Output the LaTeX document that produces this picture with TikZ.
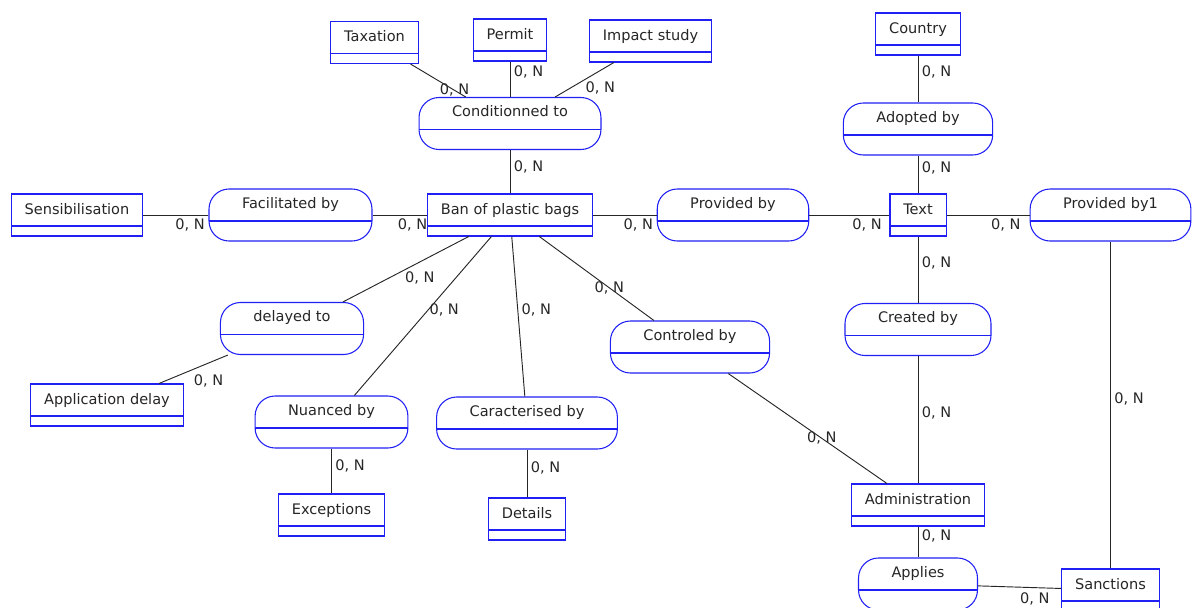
\documentclass[tikz,border=0pt]{standalone}
\usepackage{fontspec}
\setmainfont{DejaVu Sans}
\usetikzlibrary{positioning}
\definecolor{BoxBlue}{RGB}{32,32,245}
\definecolor{InkGrey}{RGB}{38,38,38}
\tikzset{
  entitybox/.style={draw=BoxBlue, line width=0.8pt, fill=white, text=InkGrey,
    font=\fontsize{10.9pt}{13pt}\selectfont, inner xsep=10pt, inner ysep=0pt,
    text height=15pt, text depth=16.5pt,
    path picture={\draw[BoxBlue, line width=0.8pt]
      ([yshift=7.5pt]path picture bounding box.south west) --
      ([yshift=7.5pt]path picture bounding box.south east);}},
  assocbox/.style={draw=BoxBlue, line width=0.8pt, rounded corners=15pt, fill=white,
    text=InkGrey, font=\fontsize{10.9pt}{13pt}\selectfont, inner xsep=24.75pt,
    inner ysep=0pt, text height=14.25pt, text depth=24.75pt,
    path picture={\draw[BoxBlue, line width=0.8pt]
      ([yshift=15pt]path picture bounding box.south west) --
      ([yshift=15pt]path picture bounding box.south east);}},
  link/.style={draw=black!85, line width=0.7pt},
  cardlbl/.style={font=\fontsize{10.9pt}{13pt}\selectfont, text=InkGrey, inner sep=2.5pt},
}

\begin{document}
\begin{tikzpicture}[x=0.75pt, y=-0.75pt]
  \useasboundingbox (0,0) rectangle (1192,607);
  \clip (0,0) rectangle (1192,607);

  % entities
  \node[entitybox] (tax) at (374.5,42.5) {Taxation};
  \node[entitybox] (permit) at (510,40) {Permit};
  \node[entitybox] (impact) at (650.5,41) {Impact study};
  \node[entitybox] (sensib) at (77,215) {Sensibilisation};
  \node[entitybox] (ban) at (510,215) {Ban of plastic bags};
  \node[entitybox] (txt) at (918,215) {Text};
  \node[entitybox] (country) at (918,34) {Country};
  \node[entitybox] (appdelay) at (107,405) {Application delay};
  \node[entitybox] (except) at (331.5,515) {Exceptions};
  \node[entitybox] (details) at (527,519) {Details};
  \node[entitybox] (admin) at (918,505) {Administration};
  \node[entitybox] (sanct) at (1110.5,590) {Sanctions};

  % associations
  \node[assocbox] (cond) at (510,123.5) {Conditionned to};
  \node[assocbox] (facil) at (290.5,215) {Facilitated by};
  \node[assocbox] (prov) at (733,215) {Provided by};
  \node[assocbox] (prov1) at (1110.5,215) {Provided by1};
  \node[assocbox] (adopt) at (918,129) {Adopted by};
  \node[assocbox] (created) at (918,329.5) {Created by};
  \node[assocbox] (delay) at (292,328.5) {delayed to};
  \node[assocbox] (nuanced) at (331.5,422) {Nuanced by};
  \node[assocbox] (caract) at (527,423) {Caracterised by};
  \node[assocbox] (controled) at (690,347) {Controled by};
  \node[assocbox] (applies) at (918,584) {Applies};

  % links
  \draw[link] (tax) -- (cond) node[cardlbl, pos=.8] {0, N};
  \draw[link] (permit) -- (cond) node[cardlbl, pos=.3, right] {0, N};
  \draw[link] (impact) -- (cond) node[cardlbl, pos=.75, right=9pt] {0, N};
  \draw[link] (cond) -- (ban) node[cardlbl, pos=.39, right] {0, N};
  \draw[link] (sensib) -- (facil) node[cardlbl, pos=1, below left] {0, N};
  \draw[link] (facil) -- (ban) node[cardlbl, pos=1, below left=0pt and -3pt] {0, N};
  \draw[link] (ban) -- (prov) node[cardlbl, pos=1, below left] {0, N};
  \draw[link] (prov) -- (txt) node[cardlbl, pos=1, below left=0pt and 3pt] {0, N};
  \draw[link] (txt) -- (prov1) node[cardlbl, pos=1, below left=0pt and 4pt] {0, N};
  \draw[link] (country) -- (adopt) node[cardlbl, pos=.35, right] {0, N};
  \draw[link] (adopt) -- (txt) node[cardlbl, pos=.33, right] {0, N};
  \draw[link] (txt) -- (created) node[cardlbl, pos=.4, right] {0, N};
  \draw[link] (created) -- (admin) node[cardlbl, pos=.45, right] {0, N};
  \draw[link] (admin) -- (applies) node[cardlbl, pos=.31, right] {0, N};
  \draw[link] (applies) -- (sanct) node[cardlbl, pos=1, below left=0pt and 6pt] {0, N};
  \draw[link] (prov1) -- (sanct) node[cardlbl, pos=.48, right] {0, N};
  \draw[link] (ban) -- (delay) node[cardlbl, pos=.63, right=9pt] {0, N};
  \draw[link] (delay) -- (appdelay) node[cardlbl, pos=.55, below right] {0, N};
  \draw[link] (ban) -- (nuanced) node[cardlbl, pos=.46, right=-2pt] {0, N};
  \draw[link] (nuanced) -- (except) node[cardlbl, pos=.39, right] {0, N};
  \draw[link] (ban) -- (caract) node[cardlbl, pos=.46, right] {0, N};
  \draw[link] (caract) -- (details) node[cardlbl, pos=.39, right] {0, N};
  \draw[link] (ban) -- (controled) node[cardlbl, pos=.61] {0, N};
  \draw[link] (controled) -- (admin) node[cardlbl, pos=.59] {0, N};
\end{tikzpicture}
\end{document}
